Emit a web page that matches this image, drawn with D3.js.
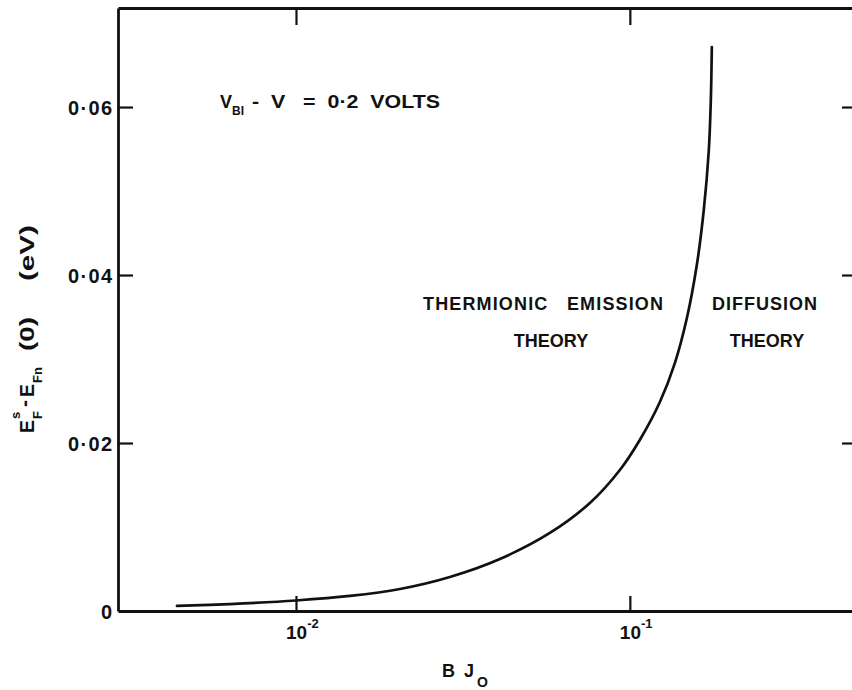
<!DOCTYPE html>
<html>
<head>
<meta charset="utf-8">
<script src="https://cdn.jsdelivr.net/npm/d3@7"></script>
<style>
  body { margin: 0; background: #fff; }
  svg { display: block; }
  text { font-family: "Liberation Sans", Arial, sans-serif; font-weight: bold; fill: #111; }
</style>
</head>
<body>
<svg id="chart" width="852" height="690"></svg>
<script>
// Normalised current B·J0 and the quasi-Fermi level split E_F^s - E_Fn(0) in eV
const bjValues = [0.00440, 0.00634, 0.0100, 0.01451, 0.02048, 0.02891, 0.04081, 0.0576, 0.07591,
                  0.09335, 0.1071, 0.1230, 0.1364, 0.1482, 0.1587, 0.1665, 0.1724, 0.1748, 0.1760];
const energyValues = [0.0006, 0.00083, 0.00125, 0.00179, 0.00262, 0.00405, 0.00619, 0.00929, 0.01286,
                      0.01679, 0.02036, 0.02488, 0.02952, 0.03488, 0.04119, 0.04774, 0.05488, 0.06083, 0.06714];

const xTickValues = [0.01, 0.1];
const xTickExponents = ["-2", "-1"];
const yTickValues = [0, 0.02, 0.04, 0.06];
const yTickLabels = ["0", "0·02", "0·04", "0·06"];

const svg = d3.select("#chart");
const plotLeft = 118, plotRight = 853, plotTop = 8, plotBottom = 611;

const x = d3.scaleLog().domain([0.00293, 0.466]).range([plotLeft, plotRight]);
const y = d3.scaleLinear().domain([0, 0.07179]).range([plotBottom, plotTop]);

function styleAxis(g) {
  g.select(".domain").attr("stroke", "#111").attr("stroke-width", 2.8);
  g.selectAll(".tick line").attr("stroke", "#111").attr("stroke-width", 2.2);
  g.selectAll(".tick text").remove();
}

// Frame with inward ticks on all four sides
svg.append("g").attr("transform", `translate(0,${plotBottom})`)
  .call(d3.axisBottom(x).tickValues(xTickValues).tickSizeInner(-15).tickSizeOuter(0).tickFormat(""))
  .call(styleAxis);
svg.append("g").attr("transform", `translate(0,${plotTop})`)
  .call(d3.axisTop(x).tickValues(xTickValues).tickSizeInner(-17).tickSizeOuter(0).tickFormat(""))
  .call(styleAxis);
svg.append("g").attr("transform", `translate(${plotLeft},0)`)
  .call(d3.axisLeft(y).tickValues(yTickValues.slice(1)).tickSizeInner(-15).tickSizeOuter(0).tickFormat(""))
  .call(styleAxis);
svg.append("g").attr("transform", `translate(${plotRight},0)`)
  .call(d3.axisRight(y).tickValues(yTickValues.slice(1)).tickSizeInner(-11).tickSizeOuter(0).tickFormat(""))
  .call(styleAxis);

// Y tick labels
svg.append("g").selectAll("text").data(yTickValues).join("text")
  .attr("x", plotLeft - 6)
  .attr("y", d => y(d) + 7.5)
  .attr("text-anchor", "end")
  .attr("font-size", 20)
  .each(function (d, i) {
    if (yTickLabels[i].length > 1) {
      d3.select(this).attr("textLength", 44).attr("lengthAdjust", "spacing");
    }
  })
  .text((d, i) => yTickLabels[i]);

// X tick labels: powers of ten
const xl = svg.append("g").selectAll("text").data(xTickValues).join("text")
  .attr("x", d => x(d) - 10)
  .attr("y", 639)
  .attr("font-size", 19);
xl.append("tspan").text("10");
xl.append("tspan").attr("dy", -11).attr("font-size", 13).text((d, i) => xTickExponents[i]);

// Curve
const line = d3.line()
  .x((d, i) => x(bjValues[i]))
  .y(d => y(d))
  .curve(d3.curveCatmullRom.alpha(0.5));
svg.append("path")
  .attr("d", line(energyValues))
  .attr("fill", "none")
  .attr("stroke", "#111")
  .attr("stroke-width", 2.7)
  .attr("stroke-linecap", "round");

// X axis title: B J0
svg.append("text").attr("x", 442).attr("y", 677).attr("font-size", 18).text("B");
svg.append("text").attr("x", 464).attr("y", 677).attr("font-size", 18).text("J");
svg.append("text").attr("x", 477).attr("y", 687).attr("font-size", 14).text("O");

// Y axis title: E_F^s - E_Fn (0)   (eV), written upward
const yt = svg.append("g").attr("transform", "translate(34,433) rotate(-90)");
yt.append("text").attr("x", 0).attr("y", 0).attr("font-size", 21).attr("textLength", 13).attr("lengthAdjust", "spacingAndGlyphs").text("E");
yt.append("text").attr("x", 14).attr("y", -14).attr("font-size", 13).text("s");
yt.append("text").attr("x", 14).attr("y", 8).attr("font-size", 13).text("F");
yt.append("text").attr("x", 26).attr("y", -3).attr("font-size", 21).text("-");
yt.append("text").attr("x", 36).attr("y", 0).attr("font-size", 21).attr("textLength", 13).attr("lengthAdjust", "spacingAndGlyphs").text("E");
yt.append("text").attr("x", 50).attr("y", 8).attr("font-size", 13).text("Fn");
yt.append("text").attr("x", 82).attr("y", 0).attr("font-size", 21).attr("textLength", 34).attr("lengthAdjust", "spacingAndGlyphs").text("(0)");
yt.append("text").attr("x", 152).attr("y", 0).attr("font-size", 21).attr("textLength", 56).attr("lengthAdjust", "spacingAndGlyphs").text("(eV)");

// Condition label
svg.append("text").attr("x", 220).attr("y", 108).attr("font-size", 18).text("V");
svg.append("text").attr("x", 232).attr("y", 115).attr("font-size", 12).text("BI");
svg.append("text").attr("x", 252).attr("y", 108).attr("font-size", 18)
  .attr("textLength", 188).attr("lengthAdjust", "spacingAndGlyphs")
  .attr("xml:space", "preserve").text("-  V   =  0·2  VOLTS");

// Region labels
svg.append("text").attr("x", 423).attr("y", 310).attr("font-size", 18)
  .attr("textLength", 240).attr("lengthAdjust", "spacing")
  .attr("xml:space", "preserve").text("THERMIONIC   EMISSION");
svg.append("text").attr("x", 551).attr("y", 347).attr("font-size", 18).attr("text-anchor", "middle").text("THEORY");
svg.append("text").attr("x", 712).attr("y", 310).attr("font-size", 18)
  .attr("textLength", 105).attr("lengthAdjust", "spacing").text("DIFFUSION");
svg.append("text").attr("x", 767).attr("y", 347).attr("font-size", 18).attr("text-anchor", "middle").text("THEORY");
</script>
</body>
</html>
